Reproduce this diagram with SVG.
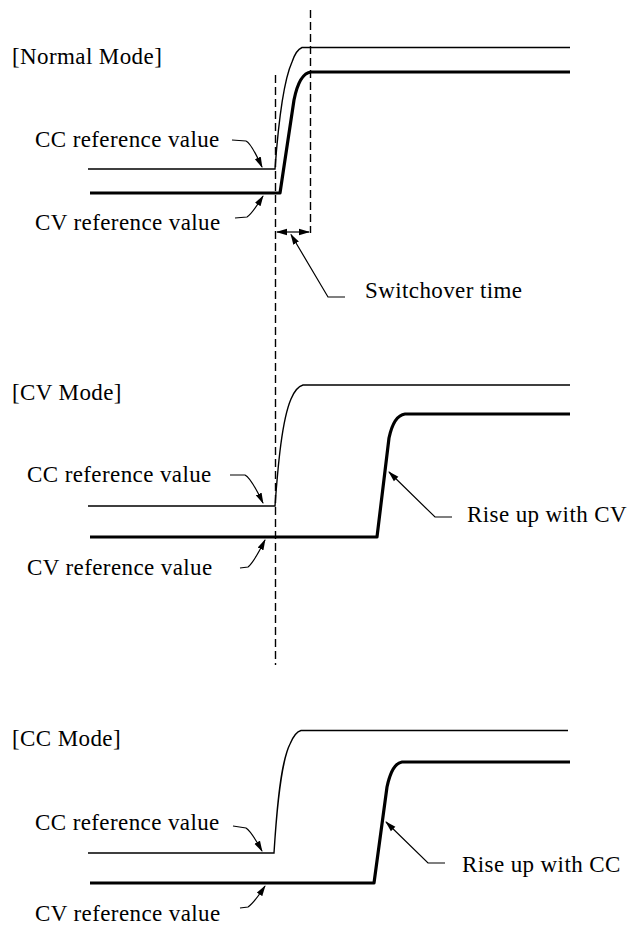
<svg xmlns="http://www.w3.org/2000/svg" width="630" height="927" viewBox="0 0 630 927">
<defs>
<marker id="ah" markerUnits="userSpaceOnUse" markerWidth="12" markerHeight="8" refX="10" refY="4" orient="auto-start-reverse" viewBox="0 0 12 8">
<path d="M0,0.8 L11,4 L0,7.2 Z" fill="#000"/>
</marker>
<style>
text{font-family:"Liberation Serif","Times New Roman",serif;font-size:23px;letter-spacing:0.4px;fill:#000}
.thin{fill:none;stroke:#000;stroke-width:1.4}
.thick{fill:none;stroke:#000;stroke-width:3.2;stroke-linejoin:round}
.dash{fill:none;stroke:#000;stroke-width:1.4;stroke-dasharray:8 4}
.lead{fill:none;stroke:#000;stroke-width:1.2;marker-end:url(#ah)}
</style>
</defs>
<rect width="630" height="927" fill="#fff"/>

<g id="normal-mode">
<text x="12" y="64">[Normal Mode]</text>
<text x="35" y="147">CC reference value</text>
<text x="35" y="230">CV reference value</text>
<text x="365" y="298">Switchover time</text>
<path class="thin" d="M88,169 H275 C278,128 283,82 292,62 Q296,50 302,47.5 H570"/>
<path class="thick" d="M90,193 H280 L294,100 C297,85 302,73 311,72 H570"/>
</g>

<g id="cv-mode">
<text x="12" y="400">[CV Mode]</text>
<text x="27" y="482">CC reference value</text>
<text x="27" y="575">CV reference value</text>
<text x="467" y="522">Rise up with CV</text>
<path class="thin" d="M88,506 H275 C278,465 282,420 291,399 Q296,387 303,385 H570"/>
<path class="thick" d="M90,537 H377 L389,438 C392,424 397,415 405,414 H570"/>
</g>

<g id="cc-mode">
<text x="12" y="746">[CC Mode]</text>
<text x="35" y="830">CC reference value</text>
<text x="35" y="921">CV reference value</text>
<text x="462" y="872">Rise up with CC</text>
<path class="thin" d="M88,853 H274 C277,805 281,762 290,744 Q295,732 301,730.5 H568"/>
<path class="thick" d="M90,883 H374 L387,787 C390,773 395,763 402,762 H570"/>
</g>

<g id="connectors">
<path class="dash" d="M275.5,75 V665"/>
<path class="dash" d="M310.5,10 V233"/>
<path class="thin" d="M277,232 H309" style="marker-start:url(#ah);marker-end:url(#ah);stroke-width:1.2"/>
<path class="lead" d="M345,297 H328 L291,234.5"/>
<path class="lead" d="M232,140 L246,141 Q251,143 262,167"/>
<path class="lead" d="M235,218 L247,217 Q252,214 263,196"/>
<path class="lead" d="M230,475 L245,475 Q251,478 263,503"/>
<path class="lead" d="M240,568 L248,567 Q254,562 265,540"/>
<path class="lead" d="M452,517 H435 L389,472"/>
<path class="lead" d="M233,826 L246,828 Q251,831 262,851"/>
<path class="lead" d="M240,908 L248,907 Q254,903 265,886"/>
<path class="lead" d="M445,863 H428 L386,822"/>
</g>
</svg>
